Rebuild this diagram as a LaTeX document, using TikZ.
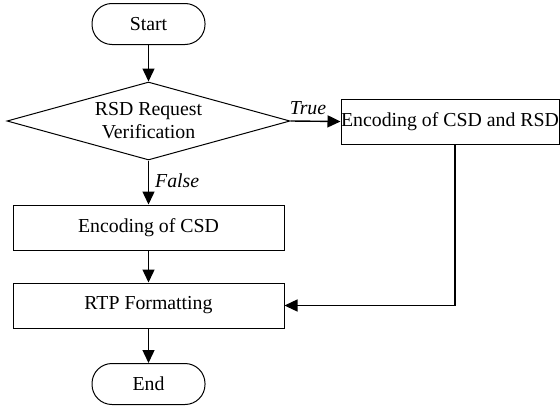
\documentclass[tikz,border=0pt]{standalone}
\usepackage{fontspec}
\setmainfont{Liberation Serif}
\usetikzlibrary{shapes.geometric,arrows.meta}
\begin{document}
\begin{tikzpicture}[x=0.5pt,y=-0.5pt,
  every node/.style={font=\fontsize{9.9}{11.5}\selectfont},
  term/.style={draw,line width=0.5pt,rounded corners=10pt,minimum width=56.5pt,minimum height=20.5pt,inner sep=0pt},
  proc/.style={draw,line width=0.5pt,minimum height=22.5pt,inner sep=0pt},
  dec/.style={draw,line width=0.5pt,diamond,aspect=3.63,minimum width=141.5pt,minimum height=39pt,inner sep=0pt,align=center},
  lbl/.style={font=\fontsize{9.9}{11.5}\selectfont\itshape,inner sep=0pt},
  arr/.style={line width=0.7pt,-{Triangle[length=6.5pt,width=6pt]}}]
\useasboundingbox (0,0) rectangle (560,407);
\node[term] (start) at (148.5,24) {Start};
\node[dec] (ver) at (148.5,121) {RSD Request\\Verification};
\node[proc,minimum width=109pt] (both) at (450,121.5) {Encoding of CSD and RSD};
\node[proc,minimum width=135.5pt] (csd) at (148.5,227.5) {Encoding of CSD};
\node[proc,minimum width=135.5pt] (rtp) at (148.5,305.5) {RTP Formatting};
\node[term] (end) at (148.5,384) {End};
\coordinate (corner) at (455,305.5);
\draw[arr] (start) -- (ver);
\draw[arr] (ver.east) -- (both.west) node[lbl,pos=0.35,above=3pt] (tl) {True};
\draw[arr] (ver.south) -- (csd.north) node[lbl,pos=0.45,right=3pt] (fl) {False};
\draw[arr] (csd) -- (rtp);
\draw[arr] (rtp) -- (end);
\draw[arr] (both.south -| corner) -- (corner) -- (rtp.east);
\end{tikzpicture}
\end{document}
